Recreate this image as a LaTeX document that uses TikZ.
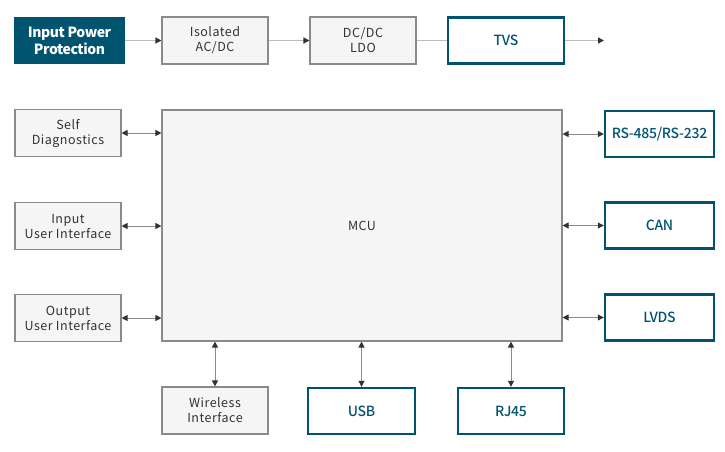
\documentclass[tikz,border=0pt]{standalone}
\usepackage{fontspec}
\setmainfont{Noto Sans CJK SC}[LetterSpace=4]
\newfontfamily\headfont{Noto Sans CJK SC Medium}[LetterSpace=-2]
\newfontfamily\titlefont{Noto Sans CJK SC}[LetterSpace=-3]
\usepackage{tikz}
\usetikzlibrary{arrows.meta}
\usetikzlibrary{positioning}
\definecolor{teal}{HTML}{00546F}
\definecolor{boxgray}{HTML}{F5F5F5}
\definecolor{edgegray}{HTML}{8A8A8A}
\definecolor{txtgray}{HTML}{333333}
\definecolor{wiregray}{HTML}{BDBDBD}

\begin{document}
\begin{tikzpicture}[x=1pt, y=-1pt, every node/.style={inner sep=0pt, align=center},
 gbox/.style={draw=edgegray, fill=boxgray, line width=1.1pt, minimum width=106pt, minimum height=47pt, text=txtgray, font=\fontsize{12.5}{15}\selectfont},
 bbox/.style={draw=teal, fill=white, line width=2.4pt, minimum width=109pt, minimum height=46pt, text=teal, font=\fontsize{14}{16}\headfont}
]
 \tikzstyle{wire}=[draw=wiregray, line width=1.4pt, -{Triangle[length=6pt, width=6pt, color=txtgray]}];
 \tikzstyle{wires}=[draw=edgegray, line width=1pt, {Triangle[length=6pt, width=6pt, color=txtgray]}-{Triangle[length=6pt, width=6pt, color=txtgray]}];
\useasboundingbox (0,0) rectangle (725,451);

% power chain
\node[fill=teal, minimum width=111pt, minimum height=47pt, text=white, font=\fontsize{14}{17}\titlefont\bfseries] (ipp) at (69.5,40.5) {Input Power\\Protection};
\node[gbox] (iso) at (215,40.5) {Isolated\\AC/DC};
\node[gbox] (ldo) at (363,40.5) {DC/DC\\LDO};
\node[bbox, minimum width=116pt] (tvs) at (506,40.5) {TVS};
\coordinate (out) at (604,40.5);

% core
\node[draw=edgegray, fill=boxgray, line width=1.1pt, minimum width=400pt, minimum height=231pt, text=txtgray, font=\fontsize{12.5}{15}\selectfont] (mcu) at (362,225.5) {MCU};

\node[gbox] (self) at (68,133) {Self\\Diagnostics};
\node[gbox] (inui) at (68,226) {Input\\User Interface};
\node[gbox] (outui) at (68,318) {Output\\User Interface};

\node[bbox] (rs) at (659.5,134) {RS-485/RS-232};
\node[bbox] (can) at (659.5,225.5) {CAN};
\node[bbox] (lvds) at (659.5,317.5) {LVDS};

\node[gbox] (wl) at (215,410.5) {Wireless\\Interface};
\node[bbox, minimum width=107pt] (usb) at (361.5,411) {USB};
\node[bbox, minimum width=106pt] (rj) at (511,411) {RJ45};

% connectors
\draw[wire] (ipp) -- (iso);
\draw[wire] (iso) -- (ldo);
\draw[draw=wiregray, line width=1.4pt] (ldo) -- (tvs);
\draw[wire] (tvs) -- (out);

\draw[wires] (self) -- (self -| mcu.west);
\draw[wires] (inui) -- (inui -| mcu.west);
\draw[wires] (outui) -- (outui -| mcu.west);
\draw[wires] (rs) -- (rs -| mcu.east);
\draw[wires] (can) -- (can -| mcu.east);
\draw[wires] (lvds) -- (lvds -| mcu.east);
\draw[wires] (wl) -- (wl |- mcu.south);
\draw[wires] (usb) -- (usb |- mcu.south);
\draw[wires] (rj) -- (rj |- mcu.south);

\end{tikzpicture}
\end{document}
